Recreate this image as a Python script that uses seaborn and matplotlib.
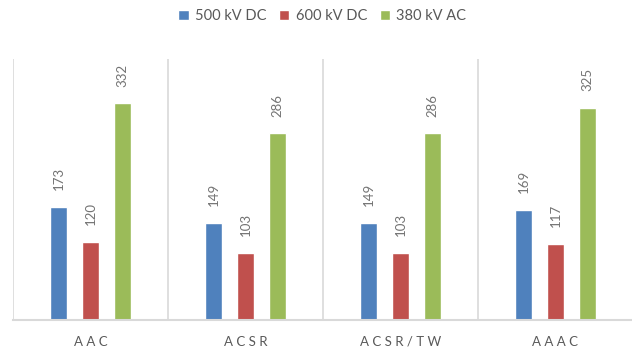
import matplotlib
matplotlib.use("Agg")
import matplotlib.pyplot as plt
import seaborn as sns
import pandas as pd

# Conductor types and values per transmission system
conductors = ["AAC", "ACSR", "ACSR/TW", "AAAC"]
systems = ["500 kV DC", "600 kV DC", "380 kV AC"]
dc500 = [173, 149, 149, 169]
dc600 = [120, 103, 103, 117]
ac380 = [332, 286, 286, 325]

colors = ["#4F81BD", "#C0504D", "#9BBB59"]
text_color = "#595959"
value_color = "#737373"
grid_color = "#D9D9D9"

df = pd.DataFrame({
    "conductor": conductors * 3,
    "system": [systems[0]] * 4 + [systems[1]] * 4 + [systems[2]] * 4,
    "value": dc500 + dc600 + ac380,
})

sns.set_theme(style="white")
plt.rcParams["font.family"] = ["Lato", "DejaVu Sans"]

fig = plt.figure(figsize=(6.32, 3.51), dpi=100)
ax = fig.add_axes([13 / 632, 1 - 320 / 351, 620 / 632, (320 - 59) / 351])

sns.barplot(data=df, x="conductor", y="value", hue="system",
            palette=colors, width=0.62, gap=0.48, ax=ax,
            saturation=1, legend=True)

for cont in ax.containers:
    ax.bar_label(cont, padding=12, rotation=90, color=value_color, fontsize=9.5)

ax.set_ylim(0, 400)
ax.set_xlim(-0.5, len(conductors) - 0.5)
ax.set_yticks([])
ax.set_xlabel("")
ax.set_ylabel("")

# Spaced-out category labels
ax.set_xticks(range(len(conductors)))
ax.set_xticklabels([" ".join(c) for c in conductors], color=text_color, fontsize=9.5)
ax.tick_params(axis="x", length=0, pad=11.5)

# Vertical separators between categories
for xb in [i - 0.5 for i in range(len(conductors) + 1)]:
    ax.axvline(xb, color=grid_color, lw=1.2, zorder=0)

for s in ["top", "right", "left"]:
    ax.spines[s].set_visible(False)
ax.spines["bottom"].set_color(grid_color)
ax.spines["bottom"].set_linewidth(1.5)

handles, labels = ax.get_legend_handles_labels()
ax.get_legend().remove()
fig.legend(handles, labels, loc="upper center", bbox_to_anchor=(0.51, 1.012),
           ncol=3, frameon=False, handlelength=0.7, handleheight=0.7,
           handletextpad=0.45, columnspacing=0.85, fontsize=10.5,
           labelcolor=text_color)

fig.savefig("out.png", dpi=100, facecolor="white")
